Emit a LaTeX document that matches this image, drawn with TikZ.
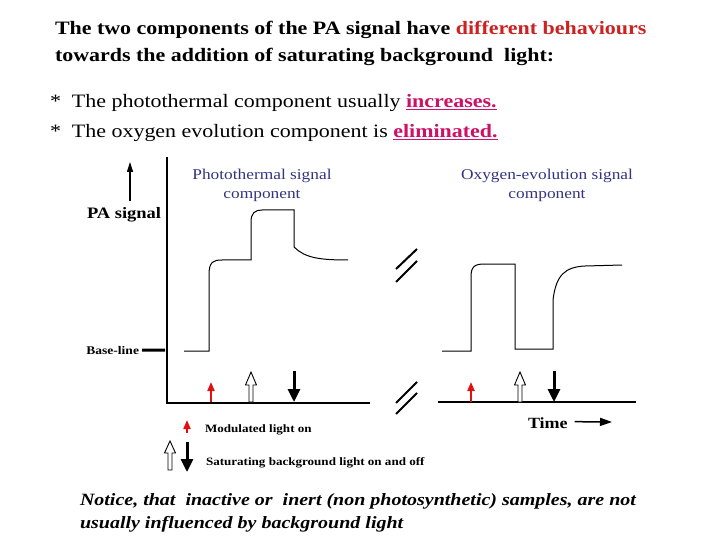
\documentclass[tikz,border=0pt]{standalone}
\usepackage{fontspec}
\setmainfont[FakeStretch=1.16]{Liberation Serif}
\usepackage{xcolor}
\usetikzlibrary{arrows.meta, calc}

\definecolor{titlered}{HTML}{CC2222}
\definecolor{pinkish}{HTML}{CC1166}
\definecolor{labelblue}{HTML}{333380}
\definecolor{lightred}{HTML}{E01010}

\begin{document}
\begin{tikzpicture}[x=1bp, y=-1bp, >={Triangle[width=6bp, length=10bp]},
  every node/.style={inner sep=0pt, outer sep=0pt},
  axisline/.style={line width=2.6bp},
  curve/.style={line width=1bp},
  breakmark/.style={line width=2bp},
  redarrow/.style={draw=lightred, line width=2bp, -{Triangle[width=7bp, length=9bp]}, lightred},
  blackarrow/.style={line width=3bp, -{Triangle[width=12bp, length=13bp]}},
  openarrow/.style={draw=black, fill=white, line width=0.9bp, line join=miter}]
  \useasboundingbox (0,0) rectangle (720,540);

  % heading
  \node[anchor=base west, font=\fontsize{19}{22}\selectfont\bfseries] (head1) at (55,35)
    {The two components of the PA signal have \textcolor{titlered}{different behaviours}};
  \node[anchor=base west, font=\fontsize{19}{22}\selectfont\bfseries] (head2) at (55,62)
    {towards the addition of saturating background\ \ light:};
  \node[anchor=base west, font=\fontsize{19}{22}\selectfont] (item1) at (50,108)
    {*\ \ The photothermal component usually \textcolor{pinkish}{\textbf{\underline{increases.}}}};
  \node[anchor=base west, font=\fontsize{19}{22}\selectfont] (item2) at (50,138)
    {*\ \ The oxygen evolution component is \textcolor{pinkish}{\textbf{\underline{eliminated.}}}};

  % axes
  \coordinate (origin) at (167,403);
  \coordinate (ytop) at (167,157);
  \coordinate (xbreak) at (370,403);
  \coordinate (xresume) at (438,402);
  \coordinate (xend) at (636,402);
  \draw[axisline] (ytop) -- (origin) -- (xbreak);
  \draw[axisline] (xresume) -- (xend);

  % break marks
  \draw[breakmark] (396,269) -- (417,249);
  \draw[breakmark] (396,282) -- (417,261);
  \draw[breakmark] (396,403) -- (417,382);
  \draw[breakmark] (396,414) -- (417,393);

  % y label
  \node[anchor=base west, font=\fontsize{16}{18}\selectfont\bfseries] (pasignal) at (87,219) {PA signal};
  \coordinate (yarrowtip) at (130,162);
  \draw[->, line width=1.1bp] ($(pasignal.north -| yarrowtip)+(0,-7)$) -- (yarrowtip);

  \node[anchor=base east, font=\fontsize{11.7}{13}\selectfont\bfseries] (baseline) at (139,354) {Base-line};
  \coordinate (baseend) at (165,350);
  \draw[line width=3bp] ($(baseline.east)+(3,0)$) -- (baseend);

  % signal labels
  \node[align=center, text=labelblue, font=\fontsize{15}{19}\selectfont] (ptlabel) at (262,185)
    {Photothermal signal\\component};
  \node[align=center, text=labelblue, font=\fontsize{15}{19}\selectfont] (oxlabel) at (547,185)
    {Oxygen-evolution signal\\component};

  % photothermal trace
  \draw[curve] (184,351) -- (209,351) -- (209,275) .. controls (209,262) and (213,260) .. (222,260)
    -- (251,260) -- (251,222) .. controls (251,213) and (255,210) .. (262,210) -- (294,210)
    -- (294,247) .. controls (305,258) and (320,260) .. (348,260);

  % oxygen trace
  \draw[curve] (442,351) -- (471,351) -- (471,277) .. controls (471,266) and (475,264) .. (485,264)
    -- (515,264) -- (515,349) -- (553,349) -- (553,300) .. controls (556,275) and (565,267) .. (585,266)
    -- (622,265);

  % light events, photothermal
  \coordinate (mod1) at (211,402);
  \coordinate (sat1) at (251,402);
  \coordinate (off1) at (294,402);
  \draw[redarrow] (mod1) -- ++(0,-20);
  \draw[openarrow] ($(sat1)+(-2,0)$) -- ++(0,-17) -- ++(-3.5,0) -- ($(sat1)+(0,-30)$)
    -- ($(sat1)+(5.5,-17)$) -- ++(-3.5,0) -- ($(sat1)+(2,0)$) -- cycle;
  \draw[blackarrow] ($(off1)+(0,-31)$) -- (off1);

  % light events, oxygen
  \coordinate (mod2) at (471,402);
  \coordinate (sat2) at (520,402);
  \coordinate (off2) at (554,402);
  \draw[redarrow] (mod2) -- ++(0,-20);
  \draw[openarrow] ($(sat2)+(-2,0)$) -- ++(0,-17) -- ++(-3.5,0) -- ($(sat2)+(0,-30)$)
    -- ($(sat2)+(5.5,-17)$) -- ++(-3.5,0) -- ($(sat2)+(2,0)$) -- cycle;
  \draw[blackarrow] ($(off2)+(0,-31)$) -- (off2);

  % time
  \node[anchor=base west, font=\fontsize{15.6}{17}\selectfont\bfseries] (time) at (528,428) {Time};
  \coordinate (timetip) at (612,422);
  \draw[line width=1.5bp, -{Triangle[width=8bp, length=12bp]}] ($(time.east)+(7,-1)$) -- (timetip);

  % legend
  \coordinate (legmod) at (187,433);
  \draw[redarrow] (legmod) -- ++(0,-13);
  \node[anchor=base west, font=\fontsize{11.3}{13}\selectfont\bfseries] (modtext) at (205,432) {Modulated light on};
  \coordinate (legsat) at (170,470);
  \draw[openarrow] ($(legsat)+(-2,0)$) -- ++(0,-17) -- ++(-3.5,0) -- ($(legsat)+(0,-29)$)
    -- ($(legsat)+(5.5,-17)$) -- ++(-3.5,0) -- ($(legsat)+(2,0)$) -- cycle;
  \coordinate (legoff) at (187,472);
  \draw[blackarrow] ($(legoff)+(0,-30)$) -- (legoff);
  \node[anchor=base west, font=\fontsize{11.3}{13}\selectfont\bfseries] (sattext) at (206,465)
    {Saturating background light on and off};

  % footnote
  \node[anchor=base west, font=\fontsize{17.3}{20}\selectfont\bfseries\itshape] (note1) at (80,505)
    {Notice, that\ \ inactive or\ \ inert (non photosynthetic) samples, are not};
  \node[anchor=base west, font=\fontsize{17.3}{20}\selectfont\bfseries\itshape] (note2) at (80,528)
    {usually influenced by background light};
\end{tikzpicture}
\end{document}
